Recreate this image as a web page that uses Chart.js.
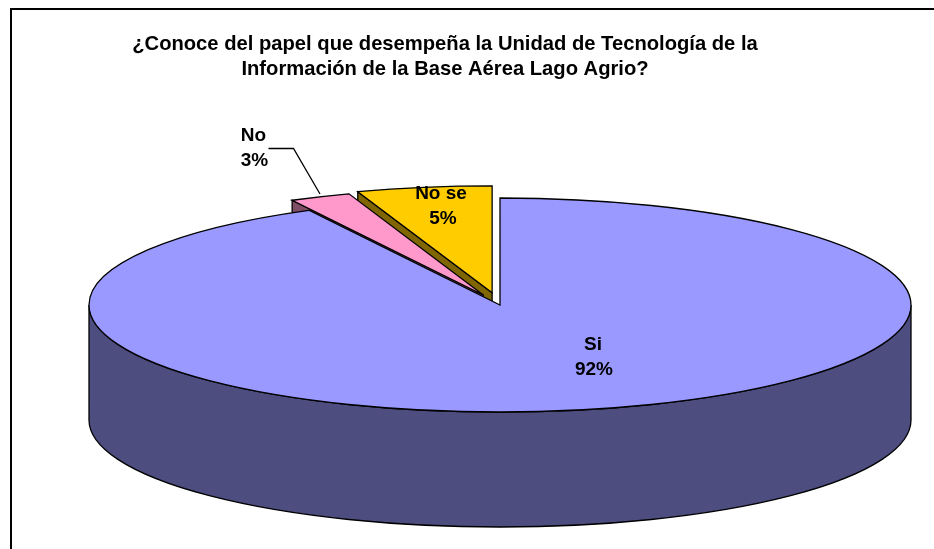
<!DOCTYPE html>
<html>
<head>
<meta charset="utf-8">
<style>
    html, body { margin: 0; padding: 0; background: #fff; }
    canvas { display: block; }
</style>
<script src="https://cdn.jsdelivr.net/npm/chart.js@4"></script>
</head>
<body>
<canvas id="pie-chart" width="934" height="549"></canvas>
<script>
// drawing order is also the order around the pie, so Si has to come last
const categories = ["No", "No se", "Si"];
const percentValues = [2.4, 5.3, 92.3];
const percentLabels = ["3%", "5%", "92%"];
const titleLines = [
    "¿Conoce del papel que desempeña la Unidad de Tecnología de la",
    "Información de la Base Aérea Lago Agrio?",
];

const topColors = ["#FF99CC", "#FFCC00", "#9999FF"];
const wallColors = ["#804D66", "#806600", "#4D4D80"];
const explode = [168, 190, 0];

const pieCenter = { x: 500, y: 305 };
const pieRadius = 411;
const flatRadius = 107;
const wallDepth = 115;
const outlineWidth = 1.3;
const labelFont = "bold 19px 'Liberation Sans', Arial, sans-serif";

// where a slice's tip ends up on screen once the pie is flattened
function arcTip(arc) {
    const middle = (arc.startAngle + arc.endAngle) / 2;
    const shift = (arc.options.offset || 0) / 4;
    return {
        x: pieCenter.x + Math.cos(middle) * shift,
        y: pieCenter.y + Math.sin(middle) * shift * flatRadius / pieRadius,
    };
}

function edgePoint(tip, angle) {
    return {
        x: tip.x + Math.cos(angle) * pieRadius,
        y: tip.y + Math.sin(angle) * flatRadius,
    };
}

function drawWalls(ctx, arcs) {
    ctx.lineWidth = outlineWidth;
    ctx.strokeStyle = "#000";

    // cut faces of the two pulled out slices, No se first so No can sit on it
    [1, 0].forEach((i) => {
        const tip = arcTip(arcs[i]);
        const corner = edgePoint(tip, arcs[i].startAngle);
        ctx.beginPath();
        ctx.moveTo(tip.x, tip.y);
        ctx.lineTo(corner.x, corner.y);
        ctx.lineTo(corner.x, corner.y + wallDepth);
        ctx.lineTo(tip.x, tip.y + wallDepth);
        ctx.closePath();
        ctx.fillStyle = wallColors[i];
        ctx.fill();
        ctx.stroke();
    });

    // front of the big slice
    ctx.beginPath();
    ctx.ellipse(pieCenter.x, pieCenter.y, pieRadius, flatRadius, 0, 0, Math.PI);
    ctx.lineTo(pieCenter.x - pieRadius, pieCenter.y + wallDepth);
    ctx.ellipse(pieCenter.x, pieCenter.y + wallDepth, pieRadius, flatRadius, 0, Math.PI, 0, true);
    ctx.closePath();
    ctx.fillStyle = wallColors[2];
    ctx.fill();
    ctx.stroke();
}

// Chart.js trims the angle of an offset slice and thins lines under the
// squash, so the top faces get filled and outlined again from the arc angles
function drawTops(ctx, arcs) {
    ctx.lineWidth = outlineWidth;
    ctx.strokeStyle = "#000";
    arcs.forEach((arc) => {
        const tip = arcTip(arc);
        ctx.beginPath();
        ctx.moveTo(tip.x, tip.y);
        ctx.ellipse(tip.x, tip.y, pieRadius, flatRadius, 0, arc.startAngle, arc.endAngle);
        ctx.closePath();
        ctx.fillStyle = arc.options.backgroundColor;
        ctx.fill();
        ctx.stroke();
    });
}

function drawLabels(ctx) {
    ctx.fillStyle = "#000";
    ctx.font = labelFont;
    ctx.textAlign = "center";
    ctx.textBaseline = "middle";
    ctx.fillText(categories[0], 253.5, 136);
    ctx.fillText(percentLabels[0], 254.5, 161);
    ctx.fillText(categories[1], 441, 194);
    ctx.fillText(percentLabels[1], 443, 219);
    ctx.fillText(categories[2], 593, 345);
    ctx.fillText(percentLabels[2], 594, 370);

    // leader line of the No label
    ctx.beginPath();
    ctx.moveTo(268.5, 148.5);
    ctx.lineTo(293.5, 148.5);
    ctx.lineTo(320, 194);
    ctx.lineWidth = outlineWidth;
    ctx.strokeStyle = "#000";
    ctx.stroke();
}

const flatPiePlugin = {
    id: "flatPie",
    beforeDraw(chart) {
        const ctx = chart.ctx;
        ctx.save();
        ctx.fillStyle = "#fff";
        ctx.fillRect(0, 0, chart.width, chart.height);
        ctx.strokeStyle = "#000";
        ctx.lineWidth = 2;
        ctx.beginPath();
        ctx.moveTo(11, chart.height);
        ctx.lineTo(11, 9);
        ctx.lineTo(chart.width, 9);
        ctx.stroke();
        ctx.restore();
    },
    beforeDatasetDraw(chart, args) {
        const ctx = chart.ctx;
        const arcs = args.meta.data;
        // Chart.js grows a slice by its offset, keep them all the same size
        arcs.forEach((arc) => {
            arc.outerRadius = pieRadius - (arc.options.offset || 0) / 4;
        });
        ctx.save();
        drawWalls(ctx, arcs);
        // squash the round pie Chart.js draws into the flat top face
        ctx.translate(pieCenter.x, pieCenter.y);
        ctx.scale(1, flatRadius / pieRadius);
        ctx.translate(-arcs[0].x, -arcs[0].y);
    },
    afterDatasetDraw(chart, args) {
        const ctx = chart.ctx;
        ctx.restore();
        ctx.save();
        drawTops(ctx, args.meta.data);
        drawLabels(ctx);
        ctx.restore();
    },
};

const pieData = {
    labels: categories,
    datasets: [
        {
            data: percentValues,
            backgroundColor: topColors,
            borderWidth: 0,
            offset: explode,
            clip: false,
        },
    ],
};

const pieConfig = {
    type: "pie",
    data: pieData,
    options: {
        responsive: false,
        animation: false,
        radius: pieRadius,
        rotation: -(percentValues[0] + percentValues[1]) * 3.6,
        layout: { padding: { right: 44, top: 32 } },
        plugins: {
            legend: { display: false },
            tooltip: { enabled: false },
            title: {
                display: true,
                text: titleLines,
                color: "#000",
                font: { family: "'Liberation Sans', Arial, sans-serif", size: 20.2, weight: "bold", lineHeight: 1.25 },
                padding: 0,
            },
        },
    },
    plugins: [flatPiePlugin],
};

const pieChart = new Chart(document.getElementById("pie-chart"), pieConfig);
</script>
</body>
</html>
